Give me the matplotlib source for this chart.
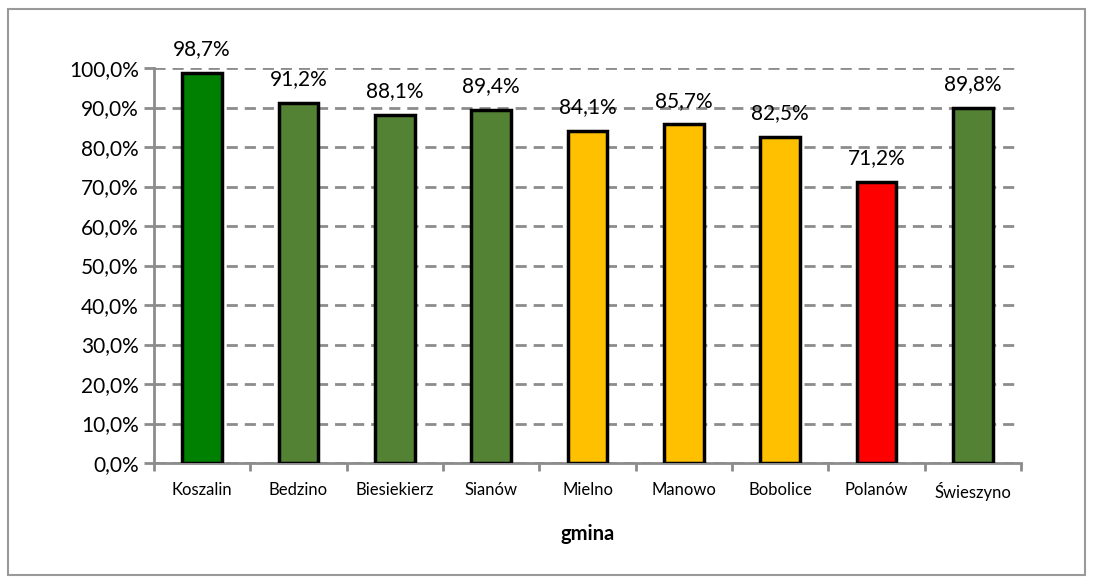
import numpy as np
import matplotlib
matplotlib.use("Agg")
import matplotlib.pyplot as plt
from matplotlib.patches import Rectangle
from matplotlib.ticker import FuncFormatter

# data
gminy = ["Koszalin", "Bedzino", "Biesiekierz", "Sianów", "Mielno",
         "Manowo", "Bobolice", "Polanów", "Świeszyno"]
values = [98.7, 91.2, 88.1, 89.4, 84.1, 85.7, 82.5, 71.2, 89.8]
bar_colors = ["#008000", "#548235", "#548235", "#548235", "#FFC000",
              "#FFC000", "#FFC000", "#FF0000", "#548235"]
y_ticks = [0, 10, 20, 30, 40, 50, 60, 70, 80, 90, 100]

plt.rcParams["font.family"] = ["Lato", "DejaVu Sans"]

fig = plt.figure(figsize=(10.94, 5.84), dpi=100)
ax = fig.add_axes([154 / 1094, 1 - 463 / 584, (1021 - 154) / 1094, (463 - 68) / 584])

# outer chart frame
fig.patches.append(Rectangle((8 / 1094, 1 - 575 / 584), 1077 / 1094, 566 / 584,
                             transform=fig.transFigure, fill=False,
                             edgecolor="#9a9a9a", lw=1.5))

x = np.arange(len(gminy))
ax.bar(x, values, width=0.41, color=bar_colors, edgecolor="black", lw=2.5, zorder=3)

for xi, v in zip(x, values):
    ax.annotate(f"{v:.1f}%".replace(".", ","), (xi, v), xytext=(0, 10),
                textcoords="offset points", ha="center", va="bottom",
                fontsize=15, annotation_clip=False)

ax.set_xlim(-0.5, len(gminy) - 0.5)
ax.set_ylim(0, 100)
ax.set_yticks(y_ticks)
ax.yaxis.set_major_formatter(FuncFormatter(lambda v, p: f"{v:.1f}%".replace(".", ",")))
ax.grid(axis="y", color="#8c8c8c", ls=(0, (4, 2.5)), lw=2, zorder=0)

ax.set_xticks(np.arange(-0.5, len(gminy)))
ax.set_xticklabels([])
ax.set_xticks(x, minor=True)
ax.set_xticklabels(gminy, minor=True, fontsize=12)
ax.tick_params(axis="x", which="major", length=6, width=2, color="#8c8c8c", direction="out")
ax.tick_params(axis="x", which="minor", length=0, pad=14)
ax.tick_params(axis="y", length=7, width=2, color="#8c8c8c", labelsize=15, pad=4)

for side in ["top", "right"]:
    ax.spines[side].set_visible(False)
for side in ["left", "bottom"]:
    ax.spines[side].set_color("#8c8c8c")
    ax.spines[side].set_linewidth(2)

ax.set_xlabel("gmina", fontsize=14.5, fontweight="bold", labelpad=16)

fig.savefig("out.png", dpi=100)
